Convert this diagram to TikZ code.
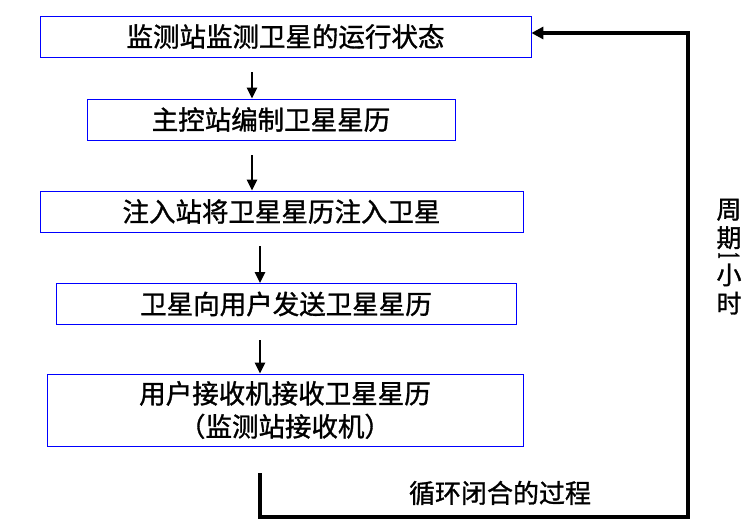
\documentclass[tikz,border=0pt]{standalone}
\usepackage{fontspec}
\setmainfont{Noto Sans CJK SC}[FakeBold=1.2]
\newfontfamily\numfont{Liberation Serif}
\usetikzlibrary{arrows.meta}

\begin{document}
\begin{tikzpicture}[x=1pt,y=-1pt,
    box/.style={draw=blue,line width=0.8pt,inner sep=0pt,minimum height=41pt,align=center,font=\fontsize{26.5pt}{33pt}\selectfont},
    flow/.style={line width=2.8pt,-{Triangle[length=11pt,width=10pt]}},
    loopline/.style={line width=3.5pt,-{Triangle[length=12pt,width=12pt]}},
    lbl/.style={inner sep=0pt,align=center,font=\fontsize{26pt}{26pt}\selectfont},
    vlbl/.style={inner sep=0pt,align=center,font=\fontsize{25pt}{28.5pt}\selectfont}]
  \useasboundingbox (0,0) rectangle (756,525);
  % the five steps
  \node [box,minimum width=491pt] (monitor) at (285.5,36.5) {监测站监测卫星的运行状态};
  \node [box,minimum width=368pt] (master) at (271,119.5) {主控站编制卫星星历};
  \node [box,minimum width=483pt] (inject) at (281.5,211.5) {注入站将卫星星历注入卫星};
  \node [box,minimum width=460pt] (send) at (286,304) {卫星向用户发送卫星星历};
  \node [box,minimum width=476pt,minimum height=72pt] (receive) at (285,410) {用户接收机接收卫星星历\\（监测站接收机）};
  % arrows down
  \coordinate (a1) at (252,72);
  \coordinate (a2) at (252,155);
  \coordinate (a3) at (260,246);
  \coordinate (a4) at (260,340);
  \draw [flow] (a1) -- (a1 |- master.north);
  \draw [flow] (a2) -- (a2 |- inject.north);
  \draw [flow] (a3) -- (a3 |- send.north);
  \draw [flow] (a4) -- (a4 |- receive.north);
  % loop back to the top
  \coordinate (loopstart) at (260,473);
  \coordinate (loopcorner) at (688,517);
  \draw [loopline] (loopstart) |- (loopcorner) |- ([yshift=3.5pt]monitor.east);
  % labels
  \node [lbl] (looplabel) at (500,493) {循环闭合的过程};
  \node [vlbl] (periodtop) at (729,224) {周\\期};
  \node [vlbl,rotate=-90,font=\fontsize{25pt}{25pt}\numfont\bfseries] (periodnum) at (729,256) {\scalebox{0.55}[1.3]{1}};
  \node [vlbl] (periodbot) at (729,289) {小\\时};
\end{tikzpicture}
\end{document}
